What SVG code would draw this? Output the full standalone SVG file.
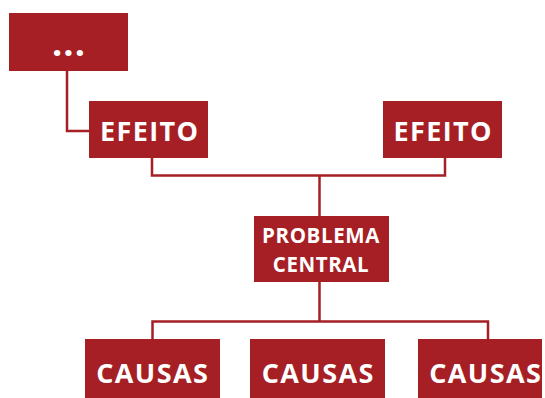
<svg xmlns="http://www.w3.org/2000/svg" width="545" height="398" viewBox="0 0 545 398">
<style>
.box{fill:#A51F24}
.t{fill:#fff;font-family:"Open Sans",Lato,sans-serif;font-weight:bold;text-anchor:middle}
.big{font-size:27px;letter-spacing:1.4px}
.mid{font-size:20.5px;letter-spacing:0.6px}
.dot{font-size:36px;letter-spacing:1px}
.ln{fill:none;stroke:#A51F24;stroke-width:2.5}
</style>
<rect width="545" height="398" fill="#fff"/>
<g id="connectors">
<path class="ln" d="M67 71 V131 H89"/>
<path class="ln" d="M152 158 V175.5 H445 V158"/>
<path class="ln" d="M319.5 175.5 V216"/>
<path class="ln" d="M319.5 282 V321.5"/>
<path class="ln" d="M152.5 339 V321.5 H488 V339"/>
</g>
<g id="dots"><rect class="box" x="9" y="13" width="119" height="58"/><text class="t dot" x="69" y="56">...</text></g>
<g id="efeito1"><rect class="box" x="89" y="101" width="119" height="57"/><text class="t big" x="149.7" y="140.5">EFEITO</text></g>
<g id="efeito2"><rect class="box" x="383" y="101" width="119" height="57"/><text class="t big" x="443.2" y="140.5">EFEITO</text></g>
<g id="problema"><rect class="box" x="254" y="216" width="135" height="66"/><text class="t mid" x="321" y="243">PROBLEMA</text><text class="t mid" x="321" y="272">CENTRAL</text></g>
<g id="causas1"><rect class="box" x="85" y="339" width="135" height="59"/><text class="t big" x="152.7" y="383">CAUSAS</text></g>
<g id="causas2"><rect class="box" x="250" y="339" width="135" height="59"/><text class="t big" x="318.2" y="383">CAUSAS</text></g>
<g id="causas3"><rect class="box" x="418" y="339" width="124" height="59"/><text class="t big" x="485.7" y="383">CAUSAS</text></g>
</svg>
